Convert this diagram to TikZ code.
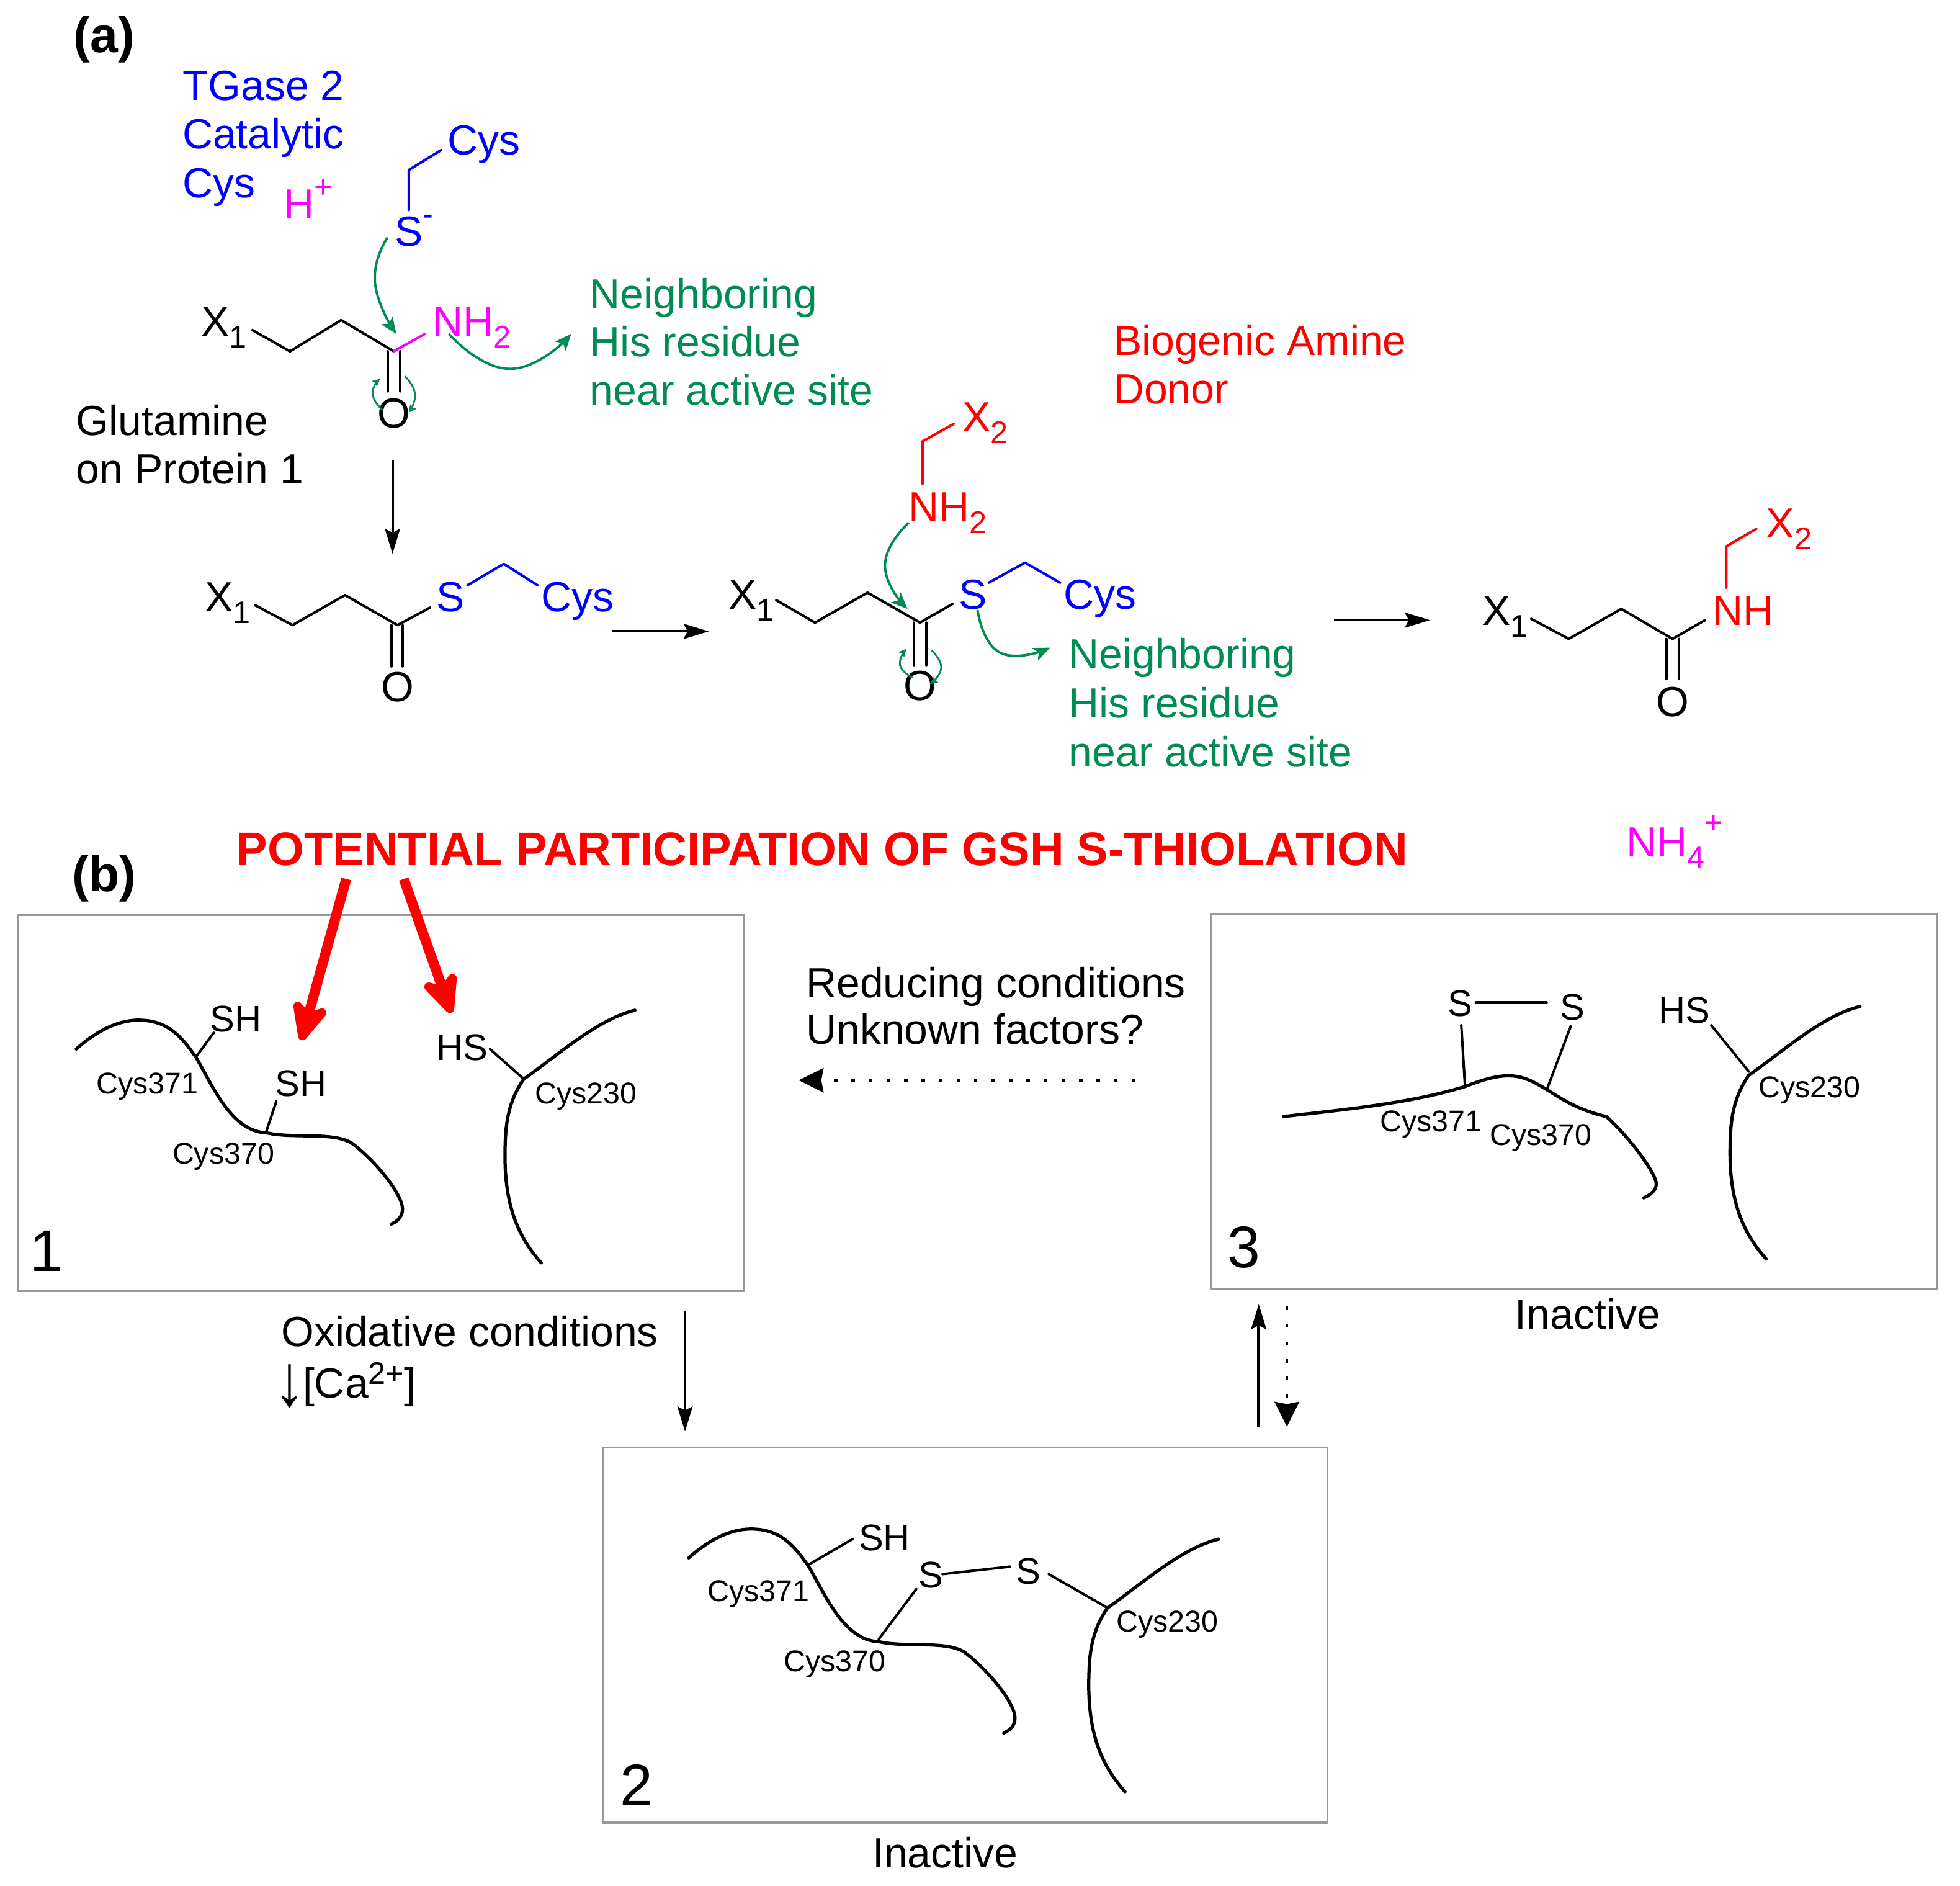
\documentclass[tikz,border=0pt]{standalone}
\usepackage{fontspec}
\setmainfont{Liberation Sans}
\usetikzlibrary{arrows.meta}
\definecolor{grn}{RGB}{0,140,80}
\definecolor{mgt}{RGB}{255,0,255}
\definecolor{blu}{RGB}{0,0,255}
\definecolor{rd}{RGB}{255,0,0}
\newcommand{\lo}[1]{\raisebox{-0.28em}{\fontsize{12.5}{14}\selectfont #1}}
\newcommand{\hi}[1]{\raisebox{0.5em}{\fontsize{12.5}{14}\selectfont #1}}
\newcommand{\strandA}{(61,839) .. controls (80,822) and (98,815) .. (114,816) .. controls (135,817) and (146,830) .. (157,846) .. controls (170,868) and (185,905) .. (213,906) .. controls (235,911) and (265,905) .. (281,914) .. controls (300,928) and (322,955) .. (322,967) .. controls (322,973) and (318,977) .. (313,979)}
\newcommand{\strandB}{(508,808) .. controls (478,815) and (445,845) .. (419,863) .. controls (406,882) and (404,900) .. (404,925) .. controls (404,965) and (415,990) .. (433,1010)}
\tikzset{
 txt/.style={anchor=base west,inner sep=0pt,outer sep=0pt,font=\fontsize{16.85}{18}\selectfont},
 ctr/.style={anchor=base,inner sep=0pt,outer sep=0pt,font=\fontsize{16.85}{18}\selectfont},
 panel/.style={txt,font=\fontsize{20}{22}\selectfont\bfseries},
 num/.style={txt,font=\fontsize{23.5}{25}\selectfont},
 cyslab/.style={txt,font=\fontsize{12}{14}\selectfont},
 sulf/.style={txt,font=\fontsize{14.8}{16}\selectfont},
 bond/.style={line width=1pt,line cap=round,line join=round},
 chain/.style={line width=1.3pt,line cap=round,line join=round},
 frame/.style={draw=black!40,line width=0.8pt},
 green arc/.style={draw=grn,line width=0.95pt,-{Stealth[length=6.5pt,width=5.5pt,inset=1.5pt]}},
 curl/.style={draw=grn,line width=0.7pt,-{Stealth[length=3pt,width=3pt,inset=.5pt]}},
 rxn/.style={draw=black,line width=1pt,-{Stealth[length=10pt,width=6pt,inset=1.5pt]}},
 dots/.style={draw=black,line width=1.4pt,dash pattern=on 1.4pt off 5.6pt,-{Stealth[length=10pt,width=10pt,inset=1pt,line width=0pt,sep=0pt]}},
 big/.style={draw=rd,line width=4pt,-{Stealth[length=20pt,width=18pt,inset=6pt,round]}},
}
\begin{document}
\begin{tikzpicture}[x=0.5pt,y=-0.5pt]
\useasboundingbox (0,0) rectangle (1568,1508.4);

% ---------- panel (a) ----------
\node[panel] (pa) at (59,42) {(a)};
\node[txt,blu] (tg1) at (146,80) {TGase 2};
\node[txt,blu] (tg2) at (146,119) {Catalytic};
\node[txt,blu] (tg3) at (146,158) {Cys};
\node[txt,mgt] (hp) at (227,175) {H\hi{+}};
\node[txt,blu] (cys0) at (358,124) {Cys};
\node[txt,blu] (s0) at (316,197) {S\hi{-}};
\draw[bond,blu] (353,120) -- (327,136) -- (327,168);
\draw[green arc] plot[smooth,tension=0.9] coordinates {(310,190) (300,226) (317,267)};

\node[txt] (x1a) at (161,269) {X\lo{1}};
\draw[bond] (202,264) -- (232,281) -- (273,256) -- (315,281);
\draw[bond,mgt] (315,281) -- (340,267);
\node[txt,mgt] (nh2a) at (346,269) {NH\lo{2}};
\draw[bond] (310,281) -- (310,313) (320,281) -- (320,313);
\node[ctr] (oa) at (315,342) {O};
\draw[curl] plot[smooth,tension=0.9] coordinates {(306,328) (298,315) (304,303)};
\draw[curl] plot[smooth,tension=0.9] coordinates {(324,301) (332,315) (327,330)};
\draw[green arc] plot[smooth,tension=0.9] coordinates {(359,267) (408,295) (457,267)};
\node[txt,grn] (n1) at (472,247) {Neighboring};
\node[txt,grn] (n2) at (472,285) {His residue};
\node[txt,grn] (n3) at (472,324) {near active site};
\node[txt] (g1) at (61,348) {Glutamine};
\node[txt] (g2) at (61,387) {on Protein 1};

\coordinate (r1s) at (314,368);
\coordinate (r1e) at (314,443);
\draw[rxn] (r1s) -- (r1e);

% second row, left
\node[txt] (x1b) at (164,489) {X\lo{1}};
\draw[bond] (204,484) -- (234,500) -- (276,476) -- (318,500) -- (344,486);
\node[txt,blu] (sb) at (349,489) {S};
\draw[bond,blu] (374,468) -- (403,451) -- (430,468);
\node[txt,blu] (cysb) at (433,489) {Cys};
\draw[bond] (313,500) -- (313,533) (322,500) -- (322,533);
\node[ctr] (ob) at (318,561) {O};

\coordinate (r2s) at (490,505);
\coordinate (r2e) at (567,505);
\draw[rxn] (r2s) -- (r2e);

% second row, middle
\node[txt] (x1c) at (583,487) {X\lo{1}};
\draw[bond] (621,480) -- (652,498) -- (694,474) -- (736,498) -- (762,483);
\node[txt,blu] (sc) at (767,487) {S};
\draw[bond,blu] (791,466) -- (820,450) -- (848,466);
\node[txt,blu] (cysc) at (851,487) {Cys};
\draw[bond] (731,498) -- (731,532) (741,498) -- (741,532);
\node[ctr] (oc) at (736,560) {O};
\draw[curl] plot[smooth,tension=0.9] coordinates {(730,542) (720,532) (725,519)};
\draw[curl] plot[smooth,tension=0.9] coordinates {(745,520) (753,534) (744,547)};
\node[txt,rd] (nh2c) at (727,417) {NH\lo{2}};
\draw[bond,rd] (738,387) -- (738,353) -- (763,339);
\node[txt,rd] (x2c) at (770,345) {X\lo{2}};
\draw[green arc] plot[smooth,tension=0.9] coordinates {(727,418) (708,452) (726,487)};
\draw[green arc] plot[smooth,tension=0.9] coordinates {(782,488) (800,522) (840,518)};
\node[txt,grn] (n4) at (855,535) {Neighboring};
\node[txt,grn] (n5) at (855,574) {His residue};
\node[txt,grn] (n6) at (855,613) {near active site};

\coordinate (r3s) at (1067,496);
\coordinate (r3e) at (1144,496);
\draw[rxn] (r3s) -- (r3e);

% second row, right
\node[txt] (x1d) at (1186,500) {X\lo{1}};
\draw[bond] (1225,495) -- (1255,511) -- (1297,487) -- (1338,511) -- (1364,496);
\node[txt,rd] (nhd) at (1370,500) {NH};
\draw[bond,rd] (1381,470) -- (1381,437) -- (1405,423);
\node[txt,rd] (x2d) at (1413,430) {X\lo{2}};
\draw[bond] (1333,511) -- (1333,543) (1343,511) -- (1343,543);
\node[ctr] (od) at (1338,573) {O};

\node[txt,rd] (bio1) at (891,284) {Biogenic Amine};
\node[txt,rd] (bio2) at (891,323) {Donor};
\node[txt,mgt] (nh4) at (1301,685) {NH\lo{4}\raisebox{0.55em}{\fontsize{12.5}{14}\selectfont +}};

% ---------- panel (b) ----------
\node[panel] (pb) at (58,713) {(b)};
\node[txt,rd,font=\fontsize{18.8}{20}\selectfont\bfseries] (title) at (189,692) {POTENTIAL PARTICIPATION OF GSH S-THIOLATION};

\node[frame,minimum width=290pt,minimum height=150.5pt,inner sep=0pt,anchor=north west] (b1) at (14,731) {};
\node[frame,minimum width=290.5pt,minimum height=150pt,inner sep=0pt,anchor=north west] (b3) at (968,730) {};
\node[frame,minimum width=289.5pt,minimum height=150pt,inner sep=0pt,anchor=north west] (b2) at (482,1157) {};

\coordinate (ra1) at (277,703);
\coordinate (ra2) at (241,832);
\coordinate (rb1) at (323,703);
\coordinate (rb2) at (361,810);
\draw[big] (ra1) -- (ra2);
\draw[big] (rb1) -- (rb2);

% box 1
\draw[chain] \strandA;
\draw[bond] (157,845) -- (171,826);
\draw[bond] (221,881) -- (213,905);
\draw[bond] (392,839) -- (419,863);
\draw[chain] \strandB;
\node[sulf] (s1a) at (168,825) {SH};
\node[sulf] (s1b) at (220,877) {SH};
\node[sulf] (s1c) at (349,848) {HS};
\node[cyslab] (c1a) at (77,875) {Cys371};
\node[cyslab] (c1b) at (138,931) {Cys370};
\node[cyslab] (c1c) at (428,883) {Cys230};
\node[num] (one) at (24,1017) {1};

% box 3
\draw[chain] (1027,893) .. controls (1080,887) and (1130,882) .. (1172,869) .. controls (1190,862) and (1205,858) .. (1218,862) .. controls (1238,868) and (1250,885) .. (1285,893) .. controls (1302,908) and (1325,938) .. (1325,947) .. controls (1325,952) and (1320,956) .. (1315,958);
\node[sulf] (s3a) at (1158,813) {S};
\node[sulf] (s3b) at (1248,816) {S};
\node[sulf] (s3c) at (1327,818) {HS};
\draw[chain] (1181,802) -- (1237,802);
\draw[bond] (1169,820) -- (1172,869);
\draw[bond] (1256.5,821) -- (1238,870);
\draw[bond] (1369,820) -- (1399,857);
\draw[chain,shift={(980,-3)}] \strandB;
\node[cyslab] (c3a) at (1104,905) {Cys371};
\node[cyslab] (c3b) at (1192,916) {Cys370};
\node[cyslab] (c3c) at (1407,878) {Cys230};
\node[num] (three) at (982,1014) {3};
\node[txt] (ina3) at (1212,1063) {Inactive};

% box 2
\draw[chain,shift={(490,407)}] \strandA;
\draw[bond] (646,1252) -- (682,1231);
\draw[bond] (733,1271) -- (703,1311);
\draw[bond] (754,1259) -- (808,1253);
\draw[bond] (839,1259) -- (886,1286);
\draw[chain,shift={(467,423)}] \strandB;
\node[sulf] (s2a) at (687,1240) {SH};
\node[sulf] (s2b) at (735,1270) {S};
\node[sulf] (s2c) at (813,1267) {S};
\node[cyslab] (c2a) at (566,1281) {Cys371};
\node[cyslab] (c2b) at (627,1337) {Cys370};
\node[cyslab] (c2c) at (893,1305) {Cys230};
\node[num] (two) at (496,1444) {2};
\node[txt] (ina2) at (698,1494) {Inactive};

% transitions
\node[txt] (red1) at (645,798) {Reducing conditions};
\node[txt] (red2) at (645,835) {Unknown factors?};
\coordinate (d1s) at (908,864);
\coordinate (d1e) at (639,864);
\draw[dots] (d1s) -- (d1e);
\node[txt] (ox1) at (225,1077) {Oxidative conditions};
\node[txt] (ox2) at (219,1118) {\raisebox{-3.2pt}{\scalebox{1.5}[1.75]{↓}}\kern-1pt[Ca\raisebox{0.32em}{\fontsize{12.5}{15}\selectfont 2+}]};
\coordinate (o1s) at (548,1049);
\coordinate (o1e) at (548,1145);
\draw[rxn,line width=1.2pt] (o1s) -- (o1e);
\coordinate (u1s) at (1007,1141);
\coordinate (u1e) at (1007,1043);
\draw[rxn,line width=1.2pt] (u1s) -- (u1e);
\coordinate (d2s) at (1029.5,1045);
\coordinate (d2e) at (1029.5,1141);
\draw[dots,line width=1.1pt] (d2s) -- (d2e);
\end{tikzpicture}
\end{document}
